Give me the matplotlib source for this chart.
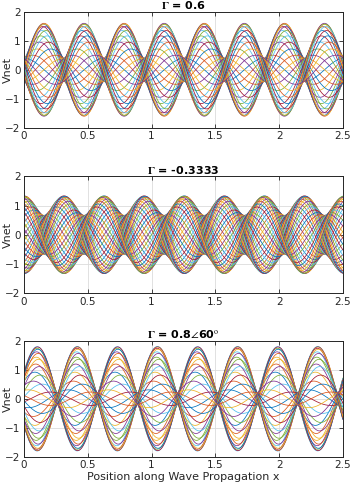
import numpy as np
import matplotlib.pyplot as plt

plt.rcParams['mathtext.fontset'] = 'stix'

# reflection coefficients
gamma_mag = [0.6, -0.3333, 0.8]
gamma_deg = [0, 0, 60]
titles = [r'$\mathbf{\Gamma}$ = 0.6',
          r'$\mathbf{\Gamma}$ = -0.3333',
          r'$\mathbf{\Gamma}$ = 0.8$\angle$60$^{\mathrm{o}}$']

beta = 10.0                 # rad per unit length (half wavelength ~0.314)
n_snap = [32, 40, 32]       # number of time snapshots per panel
x_max = 2.5

matlab_colors = ['#0072BD', '#D95319', '#EDB120', '#7E2F8E',
                 '#77AC30', '#4DBEEE', '#A2142F']

fig = plt.figure(figsize=(3.52, 4.86), dpi=100)
boxes = [[0.068, 0.737, 0.906, 0.239],
         [0.068, 0.397, 0.906, 0.240],
         [0.068, 0.060, 0.906, 0.239]]

x = np.linspace(0, x_max, 600)
for i in range(3):
    ax = fig.add_axes(boxes[i])
    G = gamma_mag[i]*np.exp(1j*np.radians(gamma_deg[i]))
    phasor = np.exp(-1j*beta*x) - G*np.exp(1j*beta*x)
    for k in range(n_snap[i]):
        wt = 2*np.pi*k/n_snap[i]
        v = np.real(phasor*np.exp(1j*wt))
        ax.plot(x, v, color=matlab_colors[k % 7], lw=0.55)
    ax.set_xlim(0, x_max)
    ax.set_ylim(-2, 2)
    ax.set_xticks([0, 0.5, 1, 1.5, 2, 2.5])
    ax.set_xticklabels(['0', '0.5', '1', '1.5', '2', '2.5'])
    ax.set_yticks([-2, -1, 0, 1, 2])
    ax.grid(True, color='#dcdcdc', lw=0.6)
    ax.set_axisbelow(True)
    ax.tick_params(direction='in', top=True, right=True, labelsize=7.5,
                   length=3, width=0.6, colors='#262626', pad=2.5)
    for s in ax.spines.values():
        s.set_linewidth(0.7)
        s.set_color('#262626')
    ax.set_ylabel('Vnet', fontsize=8, color='#262626')
    ax.yaxis.set_label_coords(-0.036, 0.5)
    ax.set_title(titles[i], fontsize=8, fontweight='bold', pad=2)

ax.set_xlabel('Position along Wave Propagation x', fontsize=8,
              color='#262626', labelpad=1)

plt.savefig('out.png', dpi=100)
